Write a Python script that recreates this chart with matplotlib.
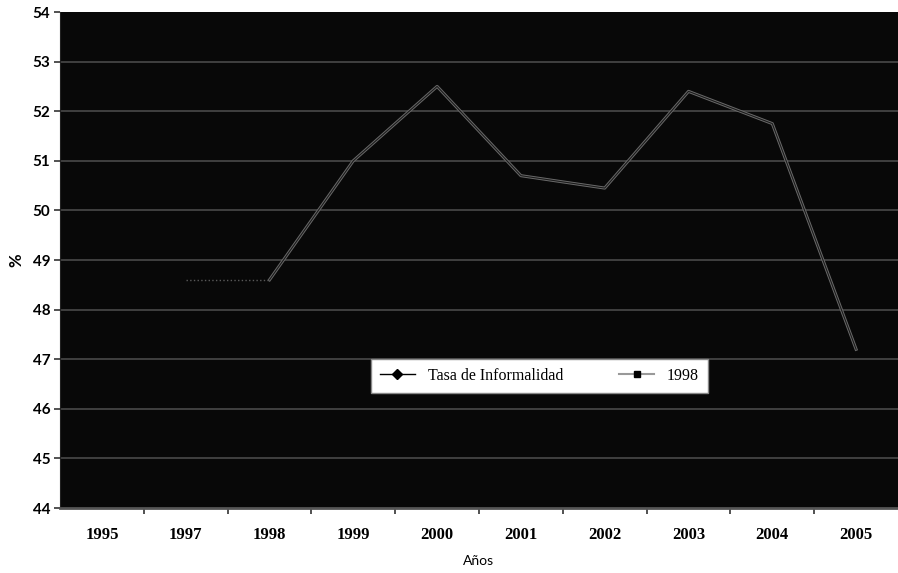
import numpy as np
import matplotlib.pyplot as plt

years = ['1995', '1997', '1998', '1999', '2000', '2001', '2002', '2003', '2004', '2005']
tasa = [np.nan, np.nan, 48.6, 51.0, 52.5, 50.7, 50.45, 52.4, 51.75, 47.2]
serie_1998 = [np.nan, 48.6, 48.6, np.nan, np.nan, np.nan, np.nan, np.nan, np.nan, np.nan]

fig = plt.figure(figsize=(8.98, 5.73), dpi=100)
ax = fig.add_axes([60 / 898, 65 / 573, 838 / 898, 496 / 573])
ax.set_facecolor('#080808')

x = np.arange(len(years))

for y in range(45, 54):
    ax.axhline(y, color='#4a4a4a', lw=1.2, zorder=1)

ax.plot(x, tasa, color='#6a6a6a', lw=2.2, zorder=3)
ax.plot(x, tasa, color='#1a1a1a', lw=0.8, zorder=4)
ax.plot(x, serie_1998, color='#5a5a5a', lw=1, ls=':', zorder=3)

# legend proxies
h1, = ax.plot([], [], color='black', lw=1, marker='D', ms=5, label='Tasa de Informalidad')
h2, = ax.plot([], [], color='#999999', lw=1.5, marker='s', ms=5, mfc='black', mec='black', label='1998')
leg = ax.legend(handles=[h1, h2], ncol=2, loc='center', bbox_to_anchor=(0.572, 0.266),
                frameon=True, fancybox=False, framealpha=1, edgecolor='#888888',
                prop={'family': 'Liberation Serif', 'size': 11.5}, columnspacing=3.5,
                handlelength=2.2, borderpad=0.55)

ax.set_xlim(-0.5, len(years) - 0.5)
ax.set_ylim(44, 54)
ax.set_yticks(range(44, 55))
ax.set_yticklabels([str(v) for v in range(44, 55)], fontfamily='Lato', fontweight='bold', fontsize=11)
ax.set_xticks(x)
ax.set_xticklabels(years, fontfamily='Liberation Serif', fontweight='bold', fontsize=12)
ax.set_xticks(np.arange(0.5, len(years) - 0.5, 1), minor=True)
ax.tick_params(axis='x', which='major', length=0, pad=14)
ax.tick_params(axis='x', which='minor', length=4, width=1.2, direction='out', color='#333333')
ax.tick_params(axis='y', length=4, width=1.2, direction='out', color='#333333', pad=3)

for s in ['top', 'right']:
    ax.spines[s].set_visible(False)
ax.spines['left'].set_color('#222222')
ax.spines['bottom'].set_color('#555555')
ax.spines['bottom'].set_linewidth(2)

ax.set_ylabel('%', fontfamily='Lato', fontweight='bold', fontsize=12, labelpad=6)
ax.set_xlabel('Años', fontfamily='Lato', fontsize=10, labelpad=8)

fig.savefig('out.png', dpi=100, facecolor='white')
